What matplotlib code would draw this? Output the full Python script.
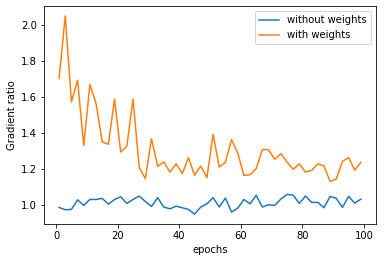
import numpy as np
import matplotlib
matplotlib.use("Agg")
import matplotlib.pyplot as plt

# epochs sampled every 2 steps
epochs = list(range(1, 100, 2))

without_weights = [
    0.989, 0.976, 0.978, 1.031, 1.000, 1.033, 1.033, 1.039, 1.007, 1.033,
    1.048, 1.011, 1.033, 1.052, 1.022, 0.994, 1.043, 0.991, 0.981, 0.996,
    0.987, 0.978, 0.952, 0.991, 1.009, 1.043, 0.991, 1.041, 0.963, 0.985,
    1.033, 1.009, 1.056, 0.991, 1.004, 1.000, 1.035, 1.061, 1.057, 1.011,
    1.052, 1.017, 1.017, 0.987, 1.050, 1.039, 0.989, 1.050, 1.013, 1.035,
]

with_weights = [
    1.704, 2.050, 1.574, 1.694, 1.333, 1.670, 1.565, 1.352, 1.339, 1.589,
    1.296, 1.328, 1.589, 1.213, 1.148, 1.370, 1.217, 1.241, 1.185, 1.231,
    1.176, 1.265, 1.167, 1.218, 1.154, 1.394, 1.213, 1.239, 1.365, 1.291,
    1.167, 1.170, 1.204, 1.309, 1.309, 1.256, 1.287, 1.241, 1.200, 1.230,
    1.185, 1.194, 1.230, 1.219, 1.133, 1.146, 1.244, 1.265, 1.196, 1.239,
]

fig = plt.figure(figsize=(386 / 72, 262 / 72), dpi=72)
ax = fig.add_axes([44 / 386, 38 / 262, 332 / 386, 218 / 262])

ax.plot(epochs, without_weights, label="without weights")
ax.plot(epochs, with_weights, label="with weights")

ax.set_xlabel("epochs")
ax.set_ylabel("Gradient ratio")
ax.legend(loc="upper right")

fig.savefig("out.png", dpi=72)
